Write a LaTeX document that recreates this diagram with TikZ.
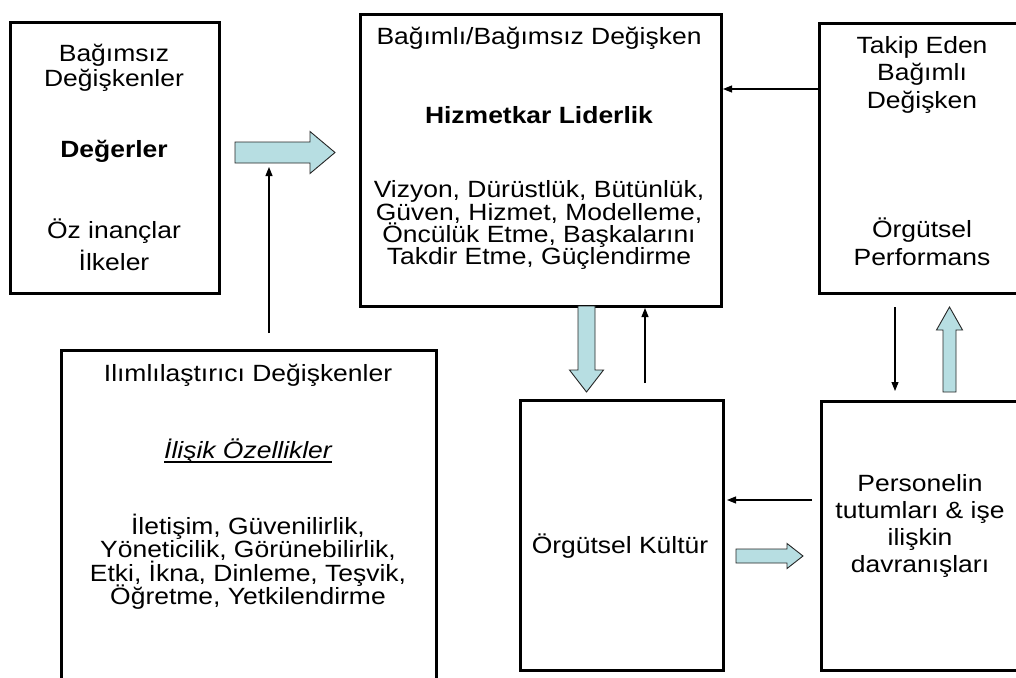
\documentclass[tikz,border=0pt]{standalone}
\usepackage{fontspec}
\setmainfont{Liberation Sans}[FakeStretch=1.126]
\usetikzlibrary{arrows.meta}
\definecolor{fatfill}{RGB}{183,222,226}
\begin{document}
\begin{tikzpicture}[x=1pt,y=-1pt,
  box/.style={draw=black, line width=3pt, inner sep=0pt, anchor=north west},
  txt/.style={anchor=base, inner sep=0pt, font=\fontsize{23.5}{27}\selectfont},
  thinarrow/.style={draw=black, line width=1.1pt, -{Triangle[length=9pt,width=7pt]}},
  fat/.style={draw=black!85, line width=0.9pt, fill=fatfill, line join=miter},
  pics/fatarrow/.style n args={4}{code={
    % #1 total length, #2 half shaft width, #3 half head width, #4 head length
    \draw[fat] (0,{-#2}) -- ({#1-#4},{-#2}) -- ({#1-#4},{-#3}) -- (#1,0)
      -- ({#1-#4},{#3}) -- ({#1-#4},{#2}) -- (0,{#2}) -- cycle;
  }},
]
\useasboundingbox (0,0) rectangle (1016,677);
\clip (0,0) rectangle (1016,677);
\fill[white] (0,0) rectangle (1016,677);

% boxes
\node[box, minimum width=209pt, minimum height=271pt] (lbox)  at (9,21)   {};
\node[box, minimum width=361pt, minimum height=292pt] (cbox)  at (359,13) {};
\node[box, minimum width=204pt, minimum height=270pt] (trbox) at (818,22) {};
\node[box, minimum width=375pt, minimum height=340pt] (mbox)  at (60,349) {};
\node[box, minimum width=203pt, minimum height=270pt] (kbox)  at (519,399) {};
\node[box, minimum width=202pt, minimum height=269pt] (pbox)  at (820,400) {};

% independent variables
\node[txt] (l1) at (114,61)  {Bağımsız};
\node[txt] (l2) at (114,86)  {Değişkenler};
\node[txt] (l3) at (114,157) {\bfseries Değerler};
\node[txt] (l4) at (114,238) {Öz inançlar};
\node[txt] (l5) at (114,270) {İlkeler};

% servant leadership
\node[txt] (c1) at (539,45)  {Bağımlı/Bağımsız Değişken};
\node[txt] (c2) at (539,123) {\bfseries Hizmetkar Liderlik};
\node[txt] (c3) at (539,197) {Vizyon, Dürüstlük, Bütünlük,};
\node[txt] (c4) at (539,220) {Güven, Hizmet, Modelleme,};
\node[txt] (c5) at (539,242) {Öncülük Etme, Başkalarını};
\node[txt] (c6) at (539,264) {Takdir Etme, Güçlendirme};

% following dependent variable
\node[txt] (r1) at (922,53)  {Takip Eden};
\node[txt] (r2) at (922,80)  {Bağımlı};
\node[txt] (r3) at (922,108) {Değişken};
\node[txt] (r4) at (922,237) {Örgütsel};
\node[txt] (r5) at (922,265) {Performans};

% moderating variables
\node[txt] (m1) at (248,381) {Ilımlılaştırıcı Değişkenler};
\node[txt] (m2) at (248,458) {\itshape İlişik Özellikler};
\draw[line width=1.3pt] ([yshift=-4pt]m2.base west) -- ([yshift=-4pt]m2.base east);
\node[txt] (m3) at (248,534) {İletişim, Güvenilirlik,};
\node[txt] (m4) at (248,557) {Yöneticilik, Görünebilirlik,};
\node[txt] (m5) at (248,581) {Etki, İkna, Dinleme, Teşvik,};
\node[txt] (m6) at (248,604) {Öğretme, Yetkilendirme};

% organisational culture
\node[txt] (k1) at (620,553) {Örgütsel Kültür};

% staff attitudes
\node[txt] (p1) at (920,491) {Personelin};
\node[txt] (p2) at (920,518) {tutumları \& işe};
\node[txt] (p3) at (920,545) {ilişkin};
\node[txt] (p4) at (920,572) {davranışları};

% thin connectors
\coordinate (fb) at (818,89);
\draw[thinarrow] (fb) -- (fb -| cbox.east);
\coordinate (mtop) at (269,333);
\coordinate (mend) at (269,167);
\draw[thinarrow] (mtop) -- (mend);
\coordinate (ktop) at (645,383);
\draw[thinarrow] (ktop) -- (ktop |- cbox.south);
\coordinate (tdown) at (895,307);
\coordinate (tend) at (895,391);
\draw[thinarrow] (tdown) -- (tend);
\coordinate (pleft) at (812,500);
\coordinate (pend) at (727,500);
\draw[thinarrow] (pleft) -- (pend);

% block arrows
\pic at (235,152.5) {fatarrow={100}{10.5}{21}{25}};
\pic[rotate=-90] at (586.5,306) {fatarrow={86}{8.5}{17}{22}};
\pic[rotate=90] at (949.5,392) {fatarrow={85}{6.5}{13}{23}};
\pic at (736,556) {fatarrow={67}{7}{12.5}{16}};
\end{tikzpicture}
\end{document}
